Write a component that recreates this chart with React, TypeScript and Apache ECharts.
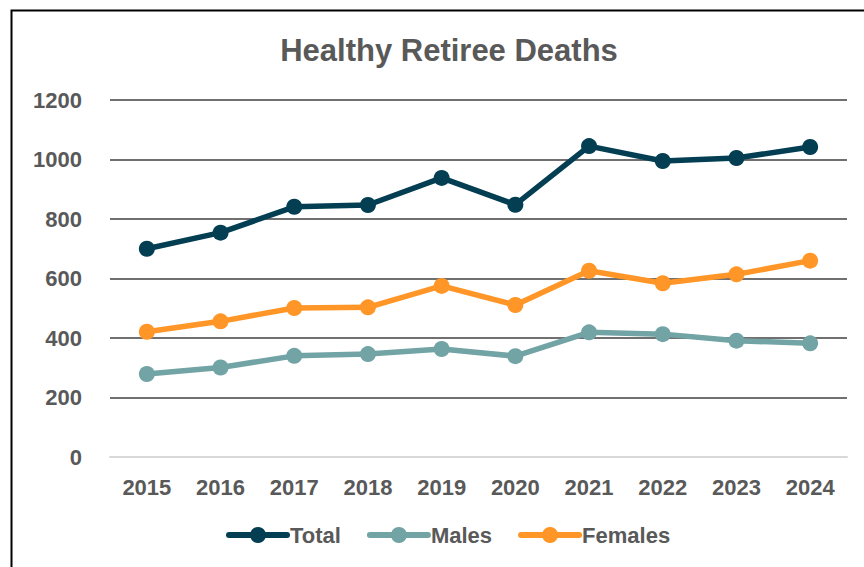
import React, { useEffect, useRef } from "react";
import * as echarts from "echarts";

const years = ["2015", "2016", "2017", "2018", "2019", "2020", "2021", "2022", "2023", "2024"];
const total = [700, 754, 841, 847, 938, 848, 1045, 995, 1005, 1042];
const males = [279, 301, 340, 346, 363, 339, 419, 413, 391, 382];
const females = [421, 456, 501, 503, 575, 511, 626, 584, 614, 660];

const FONT = "'Liberation Sans', Arial, sans-serif";
const TXT = "#595959";

export default function App() {
  const ref = useRef<HTMLDivElement>(null);
  useEffect(() => {
    if (!ref.current) return;
    const chart = echarts.init(ref.current, undefined, { renderer: "svg" });
    const mk = (name: string, data: number[], color: string) => ({
      name,
      type: "line",
      data,
      symbol: "circle",
      symbolSize: 16,
      lineStyle: { width: 5.5, color },
      itemStyle: { color },
      z: name === "Total" ? 5 : 3,
    });
    chart.setOption({
      animation: false,
      backgroundColor: "#ffffff",
      textStyle: { fontFamily: FONT },
      title: {
        text: "Healthy Retiree Deaths",
        left: 444,
        top: 30,
        textAlign: "center",
        textStyle: { fontFamily: FONT, fontSize: 31, fontWeight: "bold", color: TXT },
      },
      legend: {
        left: 221,
        top: 519,
        itemWidth: 58,
        itemHeight: 20,
        itemGap: 26,
        lineStyle: { width: 6, cap: "round" },
        textStyle: { fontFamily: FONT, fontSize: 22, fontWeight: "bold", color: TXT, padding: [0, 0, 0, -2] },
        data: ["Total", "Males", "Females"],
      },
      grid: { left: 110, right: 17, top: 100, bottom: 110, containLabel: false },
      xAxis: {
        type: "category",
        data: years,
        boundaryGap: true,
        axisLine: { show: true, lineStyle: { color: "#d9d9d9", width: 2 } },
        axisTick: { show: false },
        axisLabel: { color: TXT, fontFamily: FONT, fontSize: 22, fontWeight: "bold", margin: 19 },
      },
      yAxis: {
        type: "value",
        min: 0,
        max: 1200,
        interval: 200,
        axisLine: { show: false },
        axisTick: { show: false },
        axisLabel: {
          color: TXT,
          fontFamily: FONT,
          fontSize: 22,
          fontWeight: "bold",
          margin: 28,
          formatter: (v: number) => String(v),
        },
        splitLine: { lineStyle: { color: "#707070", width: 2 } },
      },
      graphic: [
        {
          type: "rect",
          shape: { x: 11.5, y: 10.5, width: 1000, height: 1000 },
          style: { fill: "none", stroke: "#000000", lineWidth: 2 },
          z: 100,
          silent: true,
        },
      ],
      series: [
        mk("Total", total, "#033E52"),
        mk("Males", males, "#72A3A5"),
        mk("Females", females, "#FF9627"),
      ],
    });
    return () => chart.dispose();
  }, []);
  return (
    <div
      ref={ref}
      style={{ position: "absolute", left: 0, top: 0, width: 864, height: 567 }}
    />
  );
}
